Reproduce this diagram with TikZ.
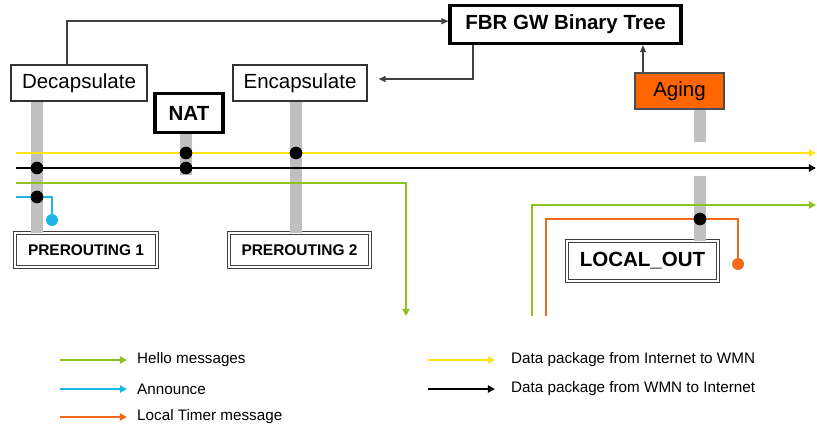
\documentclass[tikz,border=0pt]{standalone}
\usepackage{fontspec}
\setmainfont{Liberation Sans}
\usetikzlibrary{arrows.meta}

\definecolor{hellogreen}{HTML}{8DC21F}
\definecolor{announceblue}{HTML}{1CB5E8}
\definecolor{timerorange}{HTML}{F26A1B}
\definecolor{datayellow}{HTML}{FFE21A}
\definecolor{agingorange}{HTML}{FF6600}
\definecolor{hookgray}{HTML}{C0C0C0}

\begin{document}
\begin{tikzpicture}[x=0.03cm, y=-0.03cm,
        modbox/.style={draw=black!80, line width=0.9pt, minimum height=1.08cm, font=\fontsize{17.5}{20}\selectfont},
        boldbox/.style={draw, line width=2.6pt, minimum height=1.15cm, font=\fontsize{17.5}{20}\selectfont\bfseries},
        hookbox/.style={draw=black!75, double=white, double distance=1.3pt, line width=0.7pt, minimum height=1.02cm, font=\fontsize{13.2}{15}\selectfont\bfseries},
        hookbar/.style={hookgray, line width=11pt},
        junction/.style={circle, fill=black, inner sep=0pt, minimum size=0.38cm},
        ctrl/.style={draw=black!75, line width=1.2pt, -{Triangle[length=6pt,width=5pt]}},
        pkt/.style={line width=2.5pt, -{Triangle[length=6pt,width=6pt]}},
        pktline/.style={line width=2.5pt},
        legendtext/.style={anchor=west, inner sep=0pt, font=\fontsize{13}{15}\selectfont}]
    \useasboundingbox (0,0) rectangle (817,428);

    % modules and hooks
    \node[modbox, minimum width=4.08cm] (decap) at (79,83) {Decapsulate};
    \node[modbox, minimum width=4.02cm] (encap) at (300,83) {Encapsulate};
    \node[boldbox, minimum width=2.04cm] (nat) at (189,113) {NAT};
    \node[boldbox, minimum width=6.93cm] (fbr) at (565.5,24.5) {FBR GW Binary Tree};
    \node[modbox, fill=agingorange, draw=black!70, minimum width=2.67cm] (aging) at (679.5,91) {Aging};
    \node[hookbox, minimum width=4.26cm] (pre1) at (86,250) {PREROUTING 1};
    \node[hookbox, minimum width=4.23cm] (pre2) at (299.5,250) {PREROUTING 2};
    \node[hookbox, minimum width=4.53cm, minimum height=1.2cm, font=\fontsize{17.5}{20}\selectfont\bfseries] (lout) at (642.5,261) {LOCAL\_OUT};

    \coordinate (decapcol) at (37,0);
    \coordinate (natcol) at (186,0);
    \coordinate (encapcol) at (296,0);
    \coordinate (agingcol) at (700,0);
    \coordinate (topcol) at (67,0);
    \coordinate (fbrcol) at (473,0);
    \coordinate (treecol) at (643,0);

    \draw[hookbar] (decap.south -| decapcol) -- (pre1.north -| decapcol);
    \draw[hookbar] (nat.south -| natcol) -- (186,175);
    \draw[hookbar] (encap.south -| encapcol) -- (pre2.north -| encapcol);
    \draw[hookbar] (aging.south -| agingcol) -- (700,142);
    \draw[hookbar] (700,176) -- (lout.north -| agingcol);

    \draw[ctrl] (decap.north -| topcol) |- ([yshift=0.1cm]fbr.west);
    \draw[ctrl, shorten >=0.33cm] (fbr.south -| fbrcol) |- ([yshift=0.12cm]encap.east);
    \draw[ctrl] (aging.north -| treecol) -- (fbr.south -| treecol);

    % packet paths
    \coordinate (yin) at (16,153);
    \coordinate (yout) at (816,153);
    \coordinate (kin) at (16,168);
    \coordinate (kout) at (816,168);
    \coordinate (gin) at (16,183);
    \coordinate (gdown) at (406,316);
    \coordinate (bin) at (16,197);
    \coordinate (gup) at (532,316);
    \coordinate (gout) at (816,205);
    \coordinate (oup) at (546,316);

    \node[junction, fill=announceblue, minimum size=0.36cm] (announcedot) at (52,220) {};
    \node[junction, fill=timerorange, minimum size=0.36cm] (timerdot) at (738,264) {};

    \draw[pkt, datayellow] (yin) -- (yout);
    \draw[pkt, black, line width=1.9pt] (kin) -- (kout);
    \draw[pkt, hellogreen] (gin) -| (gdown);
    \draw[pktline, announceblue] (bin) -| (announcedot);
    \draw[pkt, hellogreen] (gup) |- (gout);
    \draw[pktline, timerorange] (oup) |- (738,219) -- (timerdot);

    \node[junction] (j1) at (37,168) {};
    \node[junction] (j2) at (37,197) {};
    \node[junction] (j3) at (186,153) {};
    \node[junction] (j4) at (186,168) {};
    \node[junction] (j5) at (296,153) {};
    \node[junction] (j6) at (700,219) {};

    % legend
    \node[legendtext] (lhello) at (137,360) {Hello messages};
    \node[legendtext] (lannounce) at (137,389) {Announce};
    \node[legendtext] (ltimer) at (137,417) {Local Timer message};
    \node[legendtext] (lin) at (511,360) {Data package from Internet to WMN};
    \node[legendtext] (lout2) at (511,389) {Data package from WMN to Internet};

    \draw[pkt, hellogreen] (60,360) -- (127,360);
    \draw[pkt, announceblue] (60,389) -- (127,389);
    \draw[pkt, timerorange] (60,417) -- (127,417);
    \draw[pkt, datayellow] (428,360) -- (495,360);
    \draw[pkt, black, line width=1.9pt] (428,389) -- (495,389);
\end{tikzpicture}
\end{document}
